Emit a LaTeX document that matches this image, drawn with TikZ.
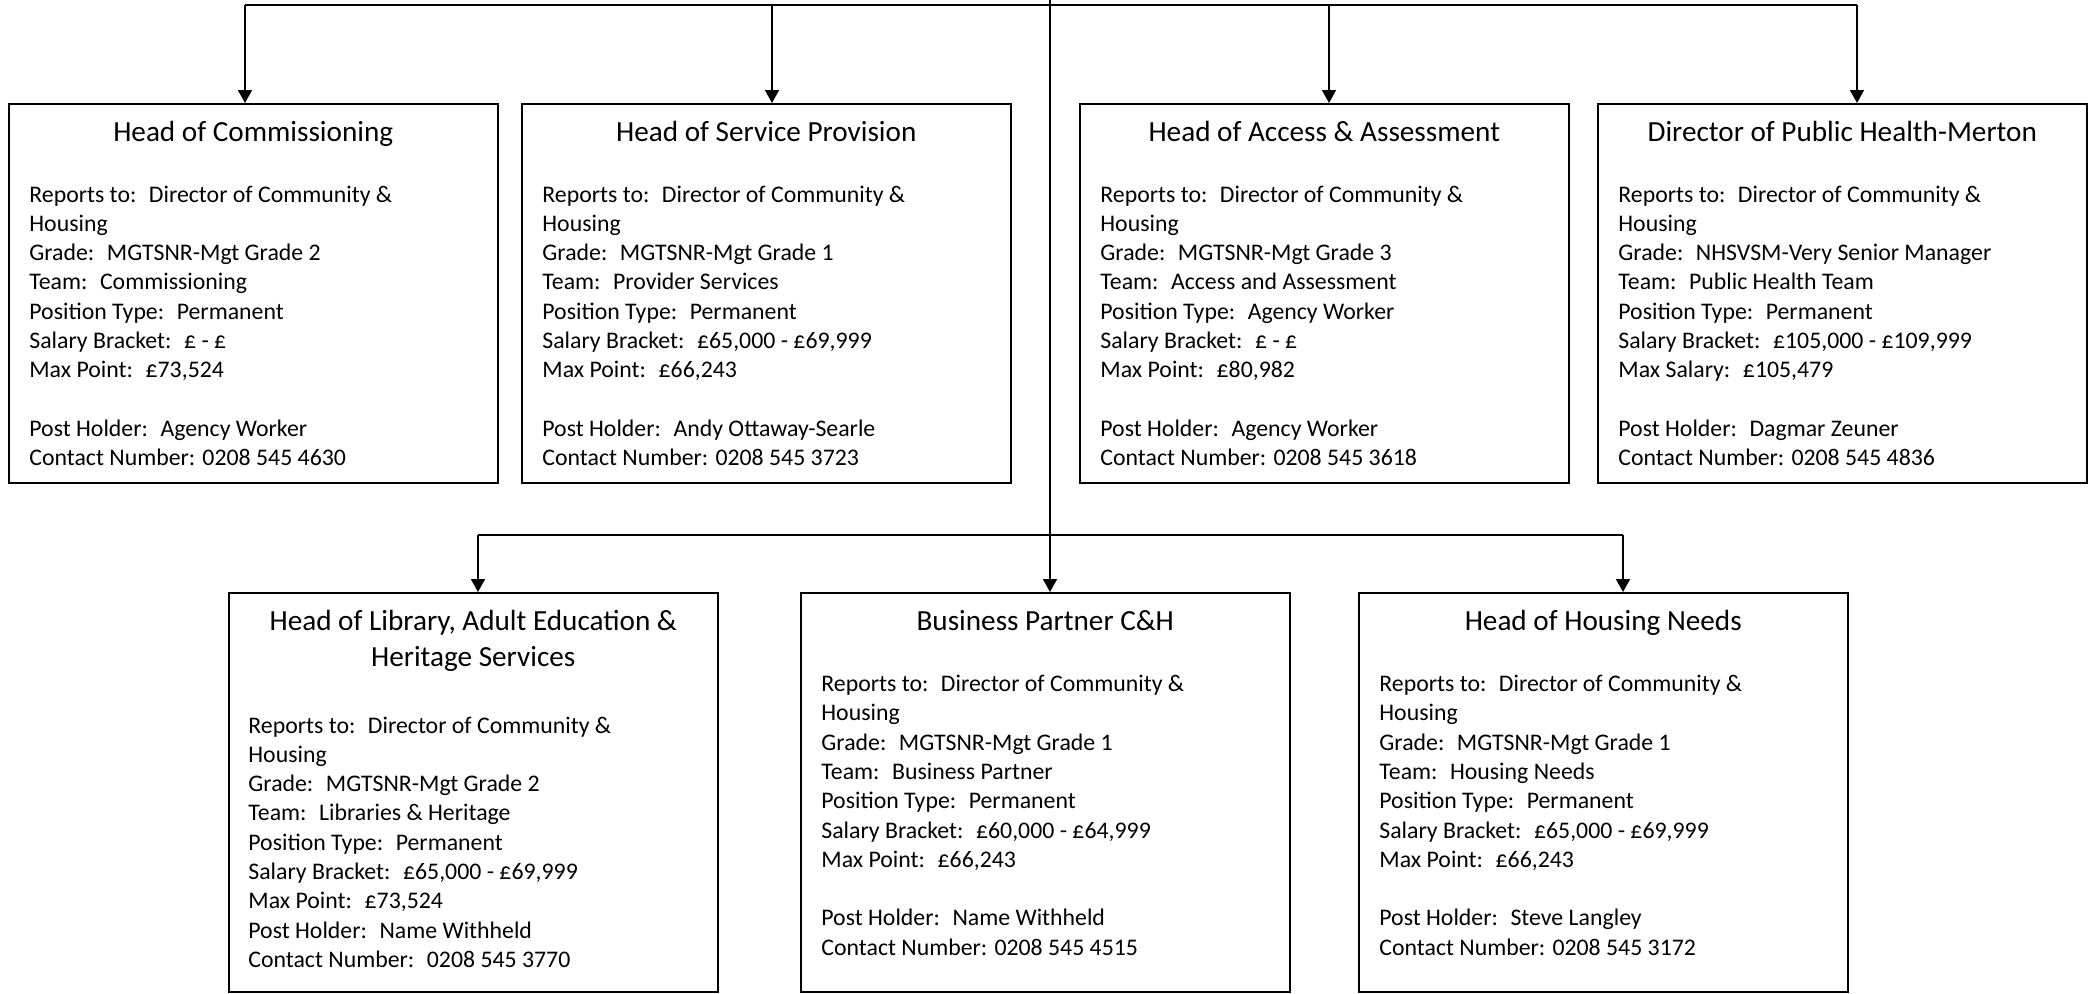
\documentclass[tikz,border=0pt]{standalone}
\usepackage{fontspec}
\setmainfont{Carlito}
\usetikzlibrary{arrows.meta,calc}
\begin{document}
\begin{tikzpicture}[x=0.5pt,y=-0.5pt,
  box/.style={draw,line width=1pt,minimum width=244.25pt,anchor=north west,inner sep=0pt},
  topbox/.style={box,minimum height=189.5pt},
  botbox/.style={box,minimum height=199.25pt},
  ttl/.style={anchor=base,font=\fontsize{14.6}{18}\selectfont,inner sep=0pt,align=center},
  body/.style={anchor=base west,font=\fontsize{11.9}{14.65}\selectfont,inner sep=0pt,align=left},
  conn/.style={line width=0.8pt},
  arr/.style={conn,-{Triangle[length=6.5pt,width=7pt]}}]
\useasboundingbox (0,0) rectangle (2089,993);

% boxes
\node[topbox] (b1) at (8,103) {};
\node[topbox] (b2) at (521,103) {};
\node[topbox] (b3) at (1079,103) {};
\node[topbox] (b4) at (1597,103) {};
\node[botbox] (b5) at (228,592) {};
\node[botbox] (b6) at (800,592) {};
\node[botbox] (b7) at (1358,592) {};

% titles (base anchor = last line)
\node[ttl] (t1) at ($(b1.north)+(0,38.5)$) {Head of Commissioning};
\node[ttl] (t2) at ($(b2.north)+(0,38.5)$) {Head of Service Provision};
\node[ttl] (t3) at ($(b3.north)+(0,38.5)$) {Head of Access \& Assessment};
\node[ttl] (t4) at ($(b4.north)+(0,38.5)$) {Director of Public Health-Merton};
\node[ttl] (t5) at ($(b5.north)+(0,74.7)$) {Head of Library, Adult Education \&\\Heritage Services};
\node[ttl] (t6) at ($(b6.north)+(0,38.5)$) {Business Partner C\&H};
\node[ttl] (t7) at ($(b7.north)+(0,38.5)$) {Head of Housing Needs};

% bodies (base anchor = last line)
\node[body] (d1) at ($(b1.north west)+(21,362.7)$) {Reports to:~ Director of Community \&\\Housing\\Grade:~ MGTSNR-Mgt Grade 2\\Team:~ Commissioning\\Position Type:~ Permanent\\Salary Bracket:~ £ - £\\Max Point:~ £73,524\\[14.65pt]Post Holder:~ Agency Worker\\Contact Number: 0208 545 4630};
\node[body] (d2) at ($(b2.north west)+(21,362.7)$) {Reports to:~ Director of Community \&\\Housing\\Grade:~ MGTSNR-Mgt Grade 1\\Team:~ Provider Services\\Position Type:~ Permanent\\Salary Bracket:~ £65,000 - £69,999\\Max Point:~ £66,243\\[14.65pt]Post Holder:~ Andy Ottaway-Searle\\Contact Number: 0208 545 3723};
\node[body] (d3) at ($(b3.north west)+(21,362.7)$) {Reports to:~ Director of Community \&\\Housing\\Grade:~ MGTSNR-Mgt Grade 3\\Team:~ Access and Assessment\\Position Type:~ Agency Worker\\Salary Bracket:~ £ - £\\Max Point:~ £80,982\\[14.65pt]Post Holder:~ Agency Worker\\Contact Number: 0208 545 3618};
\node[body] (d4) at ($(b4.north west)+(21,362.7)$) {Reports to:~ Director of Community \&\\Housing\\Grade:~ NHSVSM-Very Senior Manager\\Team:~ Public Health Team\\Position Type:~ Permanent\\Salary Bracket:~ £105,000 - £109,999\\Max Salary:~ £105,479\\[14.65pt]Post Holder:~ Dagmar Zeuner\\Contact Number: 0208 545 4836};
\node[body] (d5) at ($(b5.north west)+(20,375.4)$) {Reports to:~ Director of Community \&\\Housing\\Grade:~ MGTSNR-Mgt Grade 2\\Team:~ Libraries \& Heritage\\Position Type:~ Permanent\\Salary Bracket:~ £65,000 - £69,999\\Max Point:~ £73,524\\Post Holder:~ Name Withheld\\Contact Number:~ 0208 545 3770};
\node[body] (d6) at ($(b6.north west)+(21,363.2)$) {Reports to:~ Director of Community \&\\Housing\\Grade:~ MGTSNR-Mgt Grade 1\\Team:~ Business Partner\\Position Type:~ Permanent\\Salary Bracket:~ £60,000 - £64,999\\Max Point:~ £66,243\\[14.65pt]Post Holder:~ Name Withheld\\Contact Number: 0208 545 4515};
\node[body] (d7) at ($(b7.north west)+(21,363.2)$) {Reports to:~ Director of Community \&\\Housing\\Grade:~ MGTSNR-Mgt Grade 1\\Team:~ Housing Needs\\Position Type:~ Permanent\\Salary Bracket:~ £65,000 - £69,999\\Max Point:~ £66,243\\[14.65pt]Post Holder:~ Steve Langley\\Contact Number: 0208 545 3172};

% connectors
\coordinate (top) at (1050,0);
\coordinate (j1) at (245,5);
\coordinate (j2) at (772,5);
\coordinate (j3) at (1329,5);
\coordinate (j4) at (1857,5);
\coordinate (k5) at (478,535);
\coordinate (k7) at (1623,535);
\draw[conn] (j1) -- (j4);
\draw[conn] (k5) -- (k7);
\draw[arr] (top) -- (top |- b6.north);
\draw[arr] (j1) -- (j1 |- b1.north);
\draw[arr] (j2) -- (j2 |- b2.north);
\draw[arr] (j3) -- (j3 |- b3.north);
\draw[arr] (j4) -- (j4 |- b4.north);
\draw[arr] (k5) -- (k5 |- b5.north);
\draw[arr] (k7) -- (k7 |- b7.north);
\end{tikzpicture}
\end{document}
